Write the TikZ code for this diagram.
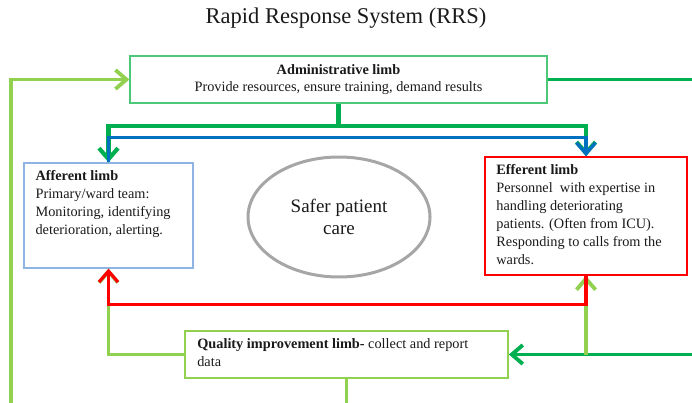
\documentclass[tikz,border=0pt]{standalone}
\usepackage{fontspec}
\setmainfont{Liberation Serif}
\usetikzlibrary{arrows.meta,positioning,shapes.geometric}
\definecolor{LimbGreen}{HTML}{92D050}
\definecolor{AdminGreen}{HTML}{00B050}
\definecolor{AdminEdge}{HTML}{4CC878}
\definecolor{AffBlue}{HTML}{0070C0}
\definecolor{AffEdge}{HTML}{8DB4E2}
\definecolor{EffRed}{HTML}{FF0000}
\definecolor{CareGray}{HTML}{A6A6A6}
\definecolor{TextDark}{HTML}{1A1A1A}

\begin{document}
\begin{tikzpicture}[x=1pt,y=-1pt,text=TextDark,body/.style={font=\fontsize{14.3}{18}\selectfont},limb/.style={draw,line width=1.3pt,fill=white,inner sep=0pt},limbtext/.style={body,anchor=north west,align=left,inner sep=0pt},link/.style={line width=3.8pt,-{Straight Barb[length=11pt,width=19pt]}}]
\clip (0,0) rectangle (692,403);
\node[font=\fontsize{22.5}{26}\selectfont] (title) at (346,18){Rapid Response System (RRS)};
\node[limb,draw=AdminEdge,minimum width=417pt,minimum height=47pt,align=center,font=\fontsize{14.3}{16.5}\selectfont] (admin) at (338.5,79.5){\textbf{Administrative limb}\\Provide resources, ensure training, demand results};
\node[limb,draw=AffEdge,minimum width=169pt,minimum height=105pt] (aff) at (108.5,215.5){};
\node[limbtext] (afftext) at ([shift={(12pt,-8pt)}]aff.north west){\textbf{Afferent limb}\\Primary/ward team:\\Monitoring, identifying\\deterioration, alerting.};
\node[limb,draw=EffRed,line width=1.6pt,minimum width=202pt,minimum height=118pt] (eff) at (586,216){};
\node[limbtext] (efftext) at ([shift={(12pt,-8pt)}]eff.north west){\textbf{Efferent limb}\\Personnel\ \ with expertise in\\handling deteriorating\\patients. (Often from ICU).\\Responding to calls from the\\wards.};
\node[ellipse,draw=CareGray,line width=3pt,minimum width=182pt,minimum height=120pt,align=center,font=\fontsize{19}{22}\selectfont] (care) at (339,217){Safer patient\\care};
\node[limb,draw=LimbGreen,line width=1.8pt,minimum width=323pt,minimum height=47pt] (qi) at (346.5,354.5){};
\node[limbtext] (qitext) at ([shift={(13pt,-8pt)}]qi.north west){\textbf{Quality improvement limb-} collect and report\\data};
\coordinate (lp) at (11,430);
\coordinate (rp) at (715,0);
\coordinate (qr) at (eff.south |- qi.east);
\draw[link,AdminGreen,line width=4.2pt] (admin.south) -- ++(0,22) -| (aff.north);
\draw[link,AdminGreen,line width=4.2pt] (admin.south) -- ++(0,22) -| (eff.north);
\draw[link,AffBlue,line width=3.2pt] (aff.north) -- ++(0,-25) -| (eff.north);
\draw[link,LimbGreen] (qi.south) |- (lp) |- (admin.west);
\draw[link,AdminGreen] (admin.east) -- (admin.east -| rp) |- (qi.east);
\draw[link,LimbGreen] (qr) -- (eff.south);
\draw[link,LimbGreen] (qi.west) -| (aff.south);
\draw[link,EffRed,line width=3.2pt] (eff.south) -- ++(0,29) -| (aff.south);
\end{tikzpicture}
\end{document}
